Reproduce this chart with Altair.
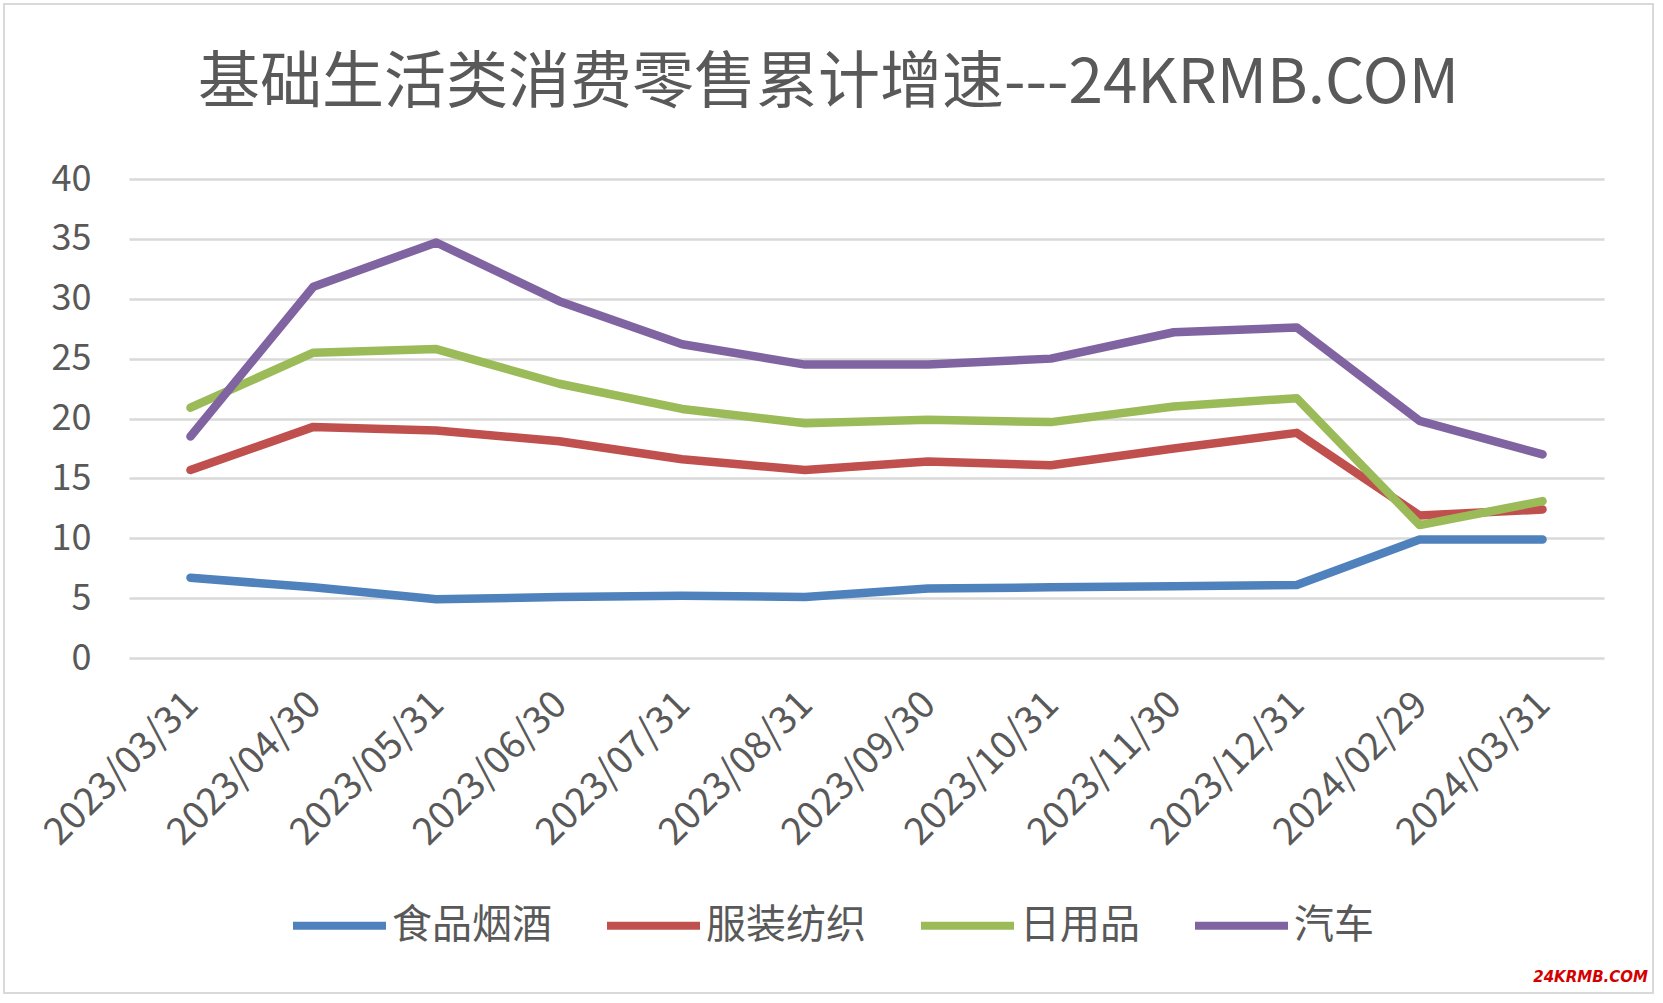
import altair as alt
import pandas as pd

dates = ["2023/03/31", "2023/04/30", "2023/05/31", "2023/06/30", "2023/07/31", "2023/08/31",
         "2023/09/30", "2023/10/31", "2023/11/30", "2023/12/31", "2024/02/29", "2024/03/31"]
series_names = ["食品烟酒", "服装纺织", "日用品", "汽车"]
food = [6.7, 5.9, 4.9, 5.1, 5.2, 5.1, 5.8, 5.9, 6.0, 6.1, 9.9, 9.9]
clothing = [15.7, 19.3, 19.0, 18.1, 16.6, 15.7, 16.4, 16.1, 17.5, 18.8, 11.9, 12.4]
daily = [20.9, 25.5, 25.8, 22.9, 20.8, 19.6, 19.9, 19.7, 21.0, 21.7, 11.1, 13.1]
auto = [18.5, 31.0, 34.7, 29.8, 26.2, 24.5, 24.5, 25.0, 27.2, 27.6, 19.8, 17.0]
colors = ["#4F81BD", "#C0504D", "#9BBB59", "#8064A2"]
title_text = "基础生活类消费零售累计增速---24KRMB.COM"
watermark_text = "24KRMB.COM"

rows = []
for name, vals in zip(series_names, [food, clothing, daily, auto]):
    for d, v in zip(dates, vals):
        rows.append({"date": d, "series": name, "value": v})
df = pd.DataFrame(rows)

FONT = "Noto Sans CJK SC"
GRAY = "#595959"

lines = alt.Chart(df).mark_line(strokeWidth=8.5, strokeCap="round", strokeJoin="round").encode(
    x=alt.X("date:O", sort=dates, scale=alt.Scale(padding=0.5),
            axis=alt.Axis(title=None, labelAngle=315, labelFontSize=38, labelFont=FONT,
                          labelColor=GRAY, ticks=False, domain=False, labelPadding=27,
                          labelOffset=-12, labelLimit=0, grid=False)),
    y=alt.Y("value:Q", scale=alt.Scale(domain=[0, 40], nice=False),
            axis=alt.Axis(title=None, values=[0, 5, 10, 15, 20, 25, 30, 35, 40], labelFontSize=36,
                          labelFont=FONT, labelColor=GRAY, ticks=False, domain=False,
                          gridColor="#d9d9d9", gridWidth=2.5, labelPadding=38)),
    color=alt.Color("series:N", sort=series_names,
                    scale=alt.Scale(domain=series_names, range=colors),
                    legend=alt.Legend(title=None, orient="none", legendX=160, legendY=696,
                                      direction="horizontal", symbolType="stroke",
                                      symbolSize=8649, symbolStrokeWidth=8,
                                      labelFontSize=40, labelFont=FONT, labelColor=GRAY,
                                      labelOffset=2, columnPadding=39)),
    order=alt.Order("series_order:Q"),
).transform_calculate(
    series_order="indexof(" + str(series_names) + ", datum.series)"
)

frame = alt.Chart(pd.DataFrame({"a": [0]})).mark_rect(
    filled=False, stroke="#d9d9d9", strokeWidth=2
).encode(x=alt.value(-125), x2=alt.value(1524), y=alt.value(-175), y2=alt.value(814))

wm = alt.Chart(pd.DataFrame({"t": [watermark_text]})).mark_text(
    align="right", baseline="middle", fontSize=15, fontStyle="italic", fontWeight="bold",
    color="#d40000", font="DejaVu Sans"
).encode(x=alt.value(1519), y=alt.value(798), text="t:N")

chart = alt.layer(frame, lines, wm).properties(
    width=1475, height=479,
    title=alt.TitleParams(title_text, fontSize=62, font=FONT, color=GRAY, fontWeight="normal",
                          anchor="middle", frame="group", dx=-38, offset=-113),
    autosize=alt.AutoSizeParams(type="none"),
    padding={"left": 129, "top": 179, "right": 59, "bottom": 345},
).configure_view(stroke=None)

chart.save("out.html", embed_options={"renderer": "svg", "actions": False})
